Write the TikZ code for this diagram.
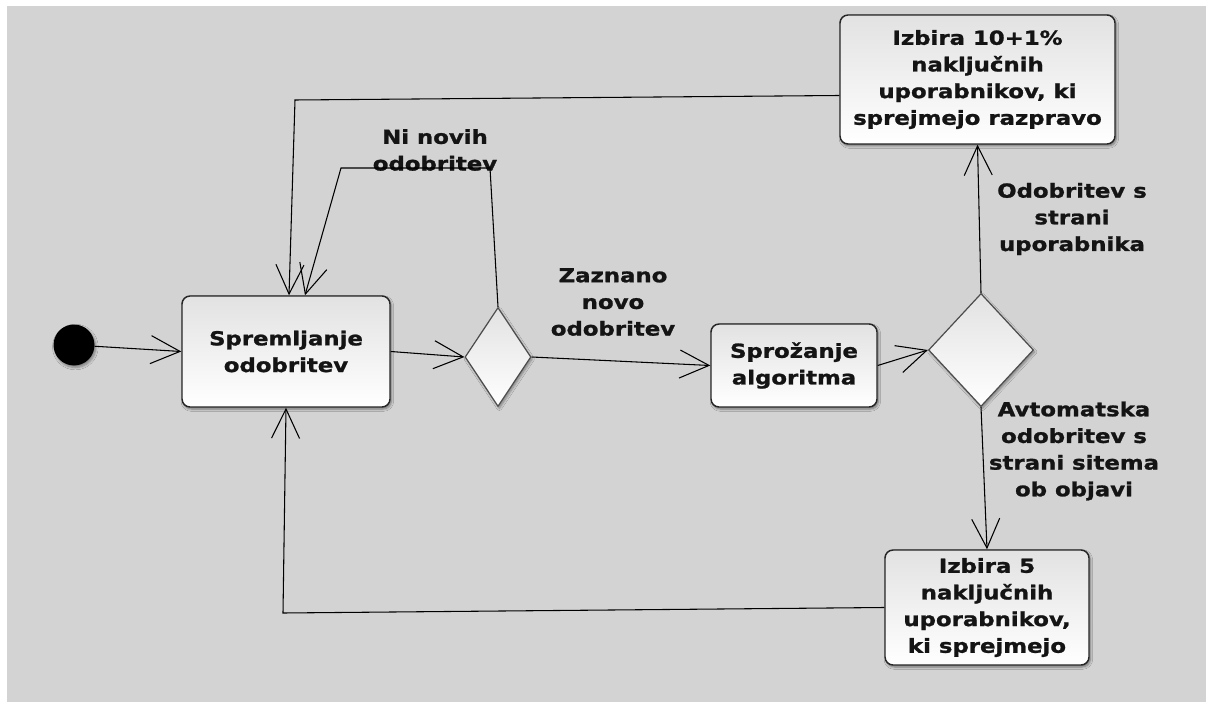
\documentclass[tikz,border=0pt]{standalone}
\usepackage{fontspec}
\newfontfamily\lab{DejaVu Sans}[FakeStretch=1.18,FakeBold=1.2]
\usetikzlibrary{arrows.meta,shapes.geometric,shadows.blur,calc}
\definecolor{bg}{RGB}{211,211,211}
\definecolor{boxtop}{RGB}{226,226,226}
\definecolor{txt}{RGB}{20,20,20}
\newcommand{\txtfont}{\lab\bfseries\fontsize{14.5}{20}\selectfont}
\tikzset{
  box/.style={rectangle, rounded corners=6pt, draw=black!85, line width=1.1pt,
    top color=boxtop, bottom color=white, inner sep=0pt, align=center,
    font=\txtfont, text=txt,
    blur shadow={shadow blur steps=6, shadow xshift=1pt, shadow yshift=-1.5pt, shadow opacity=45}},
  dia/.style={diamond, draw=black!70, line width=0.9pt, top color=boxtop, bottom color=white,
    inner sep=0pt,
    blur shadow={shadow blur steps=6, shadow xshift=1pt, shadow yshift=-1.5pt, shadow opacity=40}},
  lbl/.style={font=\txtfont, align=center, text=txt},
  flow/.style={-{Straight Barb[length=22pt,width=21pt]}, line width=0.8pt, draw=black},
}
\begin{document}
\begin{tikzpicture}[x=0.75pt,y=-0.75pt]
\useasboundingbox (0,0) rectangle (1206,702);
\fill[white] (0,0) rectangle (1206,702);
\fill[bg] (7,6) rectangle (1206,702);

% nodes
\node[circle, fill=black, minimum size=30.75pt, inner sep=0pt,
  blur shadow={shadow blur steps=6, shadow xshift=1pt, shadow yshift=-1.5pt, shadow opacity=40}] (start) at (74,345) {};
\node[box, minimum width=156pt, minimum height=83.25pt] (spr) at (286,351.5) {Spremljanje\\odobritev};
\node[dia, minimum width=49.5pt, minimum height=74.25pt] (d1) at (498,357) {};
\node[box, minimum width=124.5pt, minimum height=62.25pt] (sproz) at (794,365.5) {Sprožanje\\algoritma};
\node[dia, minimum width=78.75pt, minimum height=84.75pt] (d2) at (981,350) {};
\node[box, minimum width=206.25pt, minimum height=96.75pt] (izb10) at (977.5,79.5) {Izbira 10+1\%\\naključnih\\uporabnikov, ki\\sprejmejo razpravo};
\node[box, minimum width=153pt, minimum height=86.25pt] (izb5) at (987,607.5) {Izbira 5\\naključnih\\uporabnikov,\\ki sprejmejo};

% labels
\node[lbl] (lzaz) at (613,302) {Zaznano\\novo\\odobritev};
\node[lbl] (lni) at (435,150) {Ni novih\\odobritev};
\node[lbl] (lodo) at (1072,219) {Odobritev s\\strani\\uporabnika};
\node[lbl] (lavt) at (1074,451) {Avtomatska\\odobritev s\\strani sitema\\ob objavi};

% waypoints
\coordinate (n1) at (490,168);
\coordinate (n2) at (341,168);
\coordinate (t1) at (295,100);
\coordinate (b1) at (283,613);

% connectors
\draw[flow] (start) -- (spr.west);
\draw[flow] (spr.east) -- (d1.west);
\draw[flow] (d1.east) -- (sproz.west);
\draw[flow] (sproz.east) -- (d2.west);
\draw[flow] (d2.north) -- (izb10.south);
\draw[flow] (d2.south) -- (izb5.north);
\draw[flow] (d1.north) -- (n1) -- (n2) -- ($(spr.north)+(19,0)$);
\draw[flow] ($(izb10.west)+(0,16)$) -- (t1) -- ($(spr.north)+(3,0)$);
\draw[flow] (izb5.west) -- (b1) -- (spr.south);
\end{tikzpicture}
\end{document}
